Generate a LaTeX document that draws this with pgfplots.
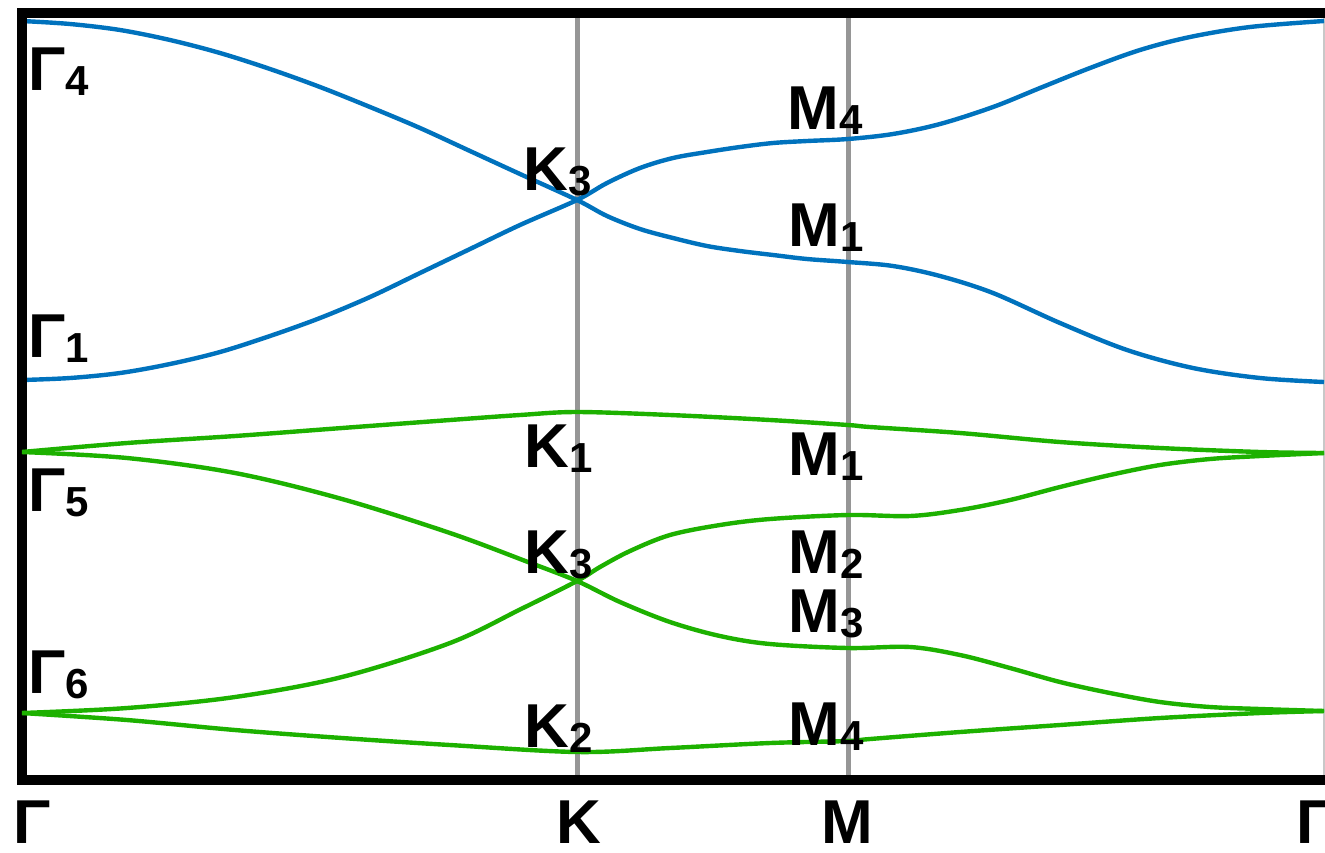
\documentclass[border=0pt]{standalone}
\usepackage{pgfplots}
\pgfplotsset{compat=1.18}
\usepackage{fontspec}
\setmainfont{Liberation Sans}

\definecolor{bandblue}{RGB}{0,114,189}
\definecolor{bandgreen}{RGB}{29,177,0}
\definecolor{kline}{RGB}{150,150,150}
\definecolor{edgeline}{RGB}{200,200,200}

% irreducible-representation label: letter with a large subscript
\newcommand{\irrep}[2]{{\fontsize{31}{31}\selectfont\bfseries #1}\raisebox{-2.5pt}{\fontsize{21}{21}\selectfont\bfseries #2}}
\newcommand{\kpt}[1]{{\fontsize{31}{31}\selectfont\bfseries #1}}

\begin{document}
\begin{tikzpicture}
\begin{axis}[
  scale only axis, width=662.5pt, height=426pt,
  xmin=0, xmax=1325, ymin=0, ymax=852, y dir=reverse,
  axis lines=none, clip=false,
  band/.style={smooth, tension=0.55, line width=2.2pt, no markers},
]
% high-symmetry lines
\addplot[kline, line width=2.5pt] coordinates {(577,13) (577,780)};
\addplot[kline, line width=2.5pt] coordinates {(848,13) (848,780)};
\addplot[edgeline, line width=0.8pt] coordinates {(1324,13) (1324,780)};

% upper (blue) bands
\addplot[band, bandblue] coordinates {
 (22,21) (70,24) (120,30) (170,40) (220,53) (270,69) (320,87) (370,107)
 (420,128) (470,151) (520,174) (577,200)
 (607,216) (640,229) (673,238) (707,246) (740,251) (773,255) (807,259)
 (848,262) (893,266) (940,276) (993,293) (1060,323) (1127,350) (1193,368)
 (1260,378) (1324,382)};
\addplot[band, bandblue] coordinates {
 (22,380) (70,378) (120,373) (170,364) (220,352) (270,336) (320,318)
 (370,297) (420,273) (470,249) (520,225) (577,200)
 (607,183) (640,168) (673,158) (707,152) (740,147) (773,143) (807,141)
 (848,139) (893,134) (940,124) (993,107) (1040,88) (1090,68) (1140,50)
 (1190,37) (1250,27) (1324,21)};

% frame
\draw[black, line width=5pt] (axis cs:1345,13) -- (axis cs:22,13) -- (axis cs:22,780) -- (axis cs:1345,780);

% lower (green) bands
\addplot[band, bandgreen] coordinates {
 (22,452) (127,443) (235,436) (342,428) (450,420) (520,415) (577,412)
 (670,415) (770,420) (848,425) (870,427) (960,433) (1060,442) (1160,448)
 (1260,452) (1324,453)};
\addplot[band, bandgreen] coordinates {
 (22,452) (127,458) (235,473) (342,499) (450,533) (528,562) (577,581)
 (620,602) (670,622) (720,636) (770,644) (848,648) (910,647) (960,655)
 (1010,668) (1060,682) (1110,693) (1160,702) (1210,707) (1260,709) (1324,711)};
\addplot[band, bandgreen] coordinates {
 (22,713) (127,708) (235,697) (342,677) (450,643) (521,609) (577,581)
 (600,567) (630,551) (670,535) (720,525) (770,519) (848,515) (910,516)
 (960,510) (1010,500) (1060,487) (1110,475) (1160,465) (1210,459) (1260,456)
 (1324,453)};
\addplot[band, bandgreen] coordinates {
 (22,713) (127,720) (235,730) (342,738) (450,745) (578,752) (670,748)
 (770,743) (848,741) (870,739) (960,732) (1060,725) (1160,718) (1260,713)
 (1324,711)};

% labels
\begin{scope}[every node/.style={anchor=base west, inner sep=0pt}]
\node at (axis cs:28,90)  {\irrep{Γ}{4}};
\node at (axis cs:28,357) {\irrep{Γ}{1}};
\node at (axis cs:28,511) {\irrep{Γ}{5}};
\node at (axis cs:28,693) {\irrep{Γ}{6}};
\node at (axis cs:523,190) {\irrep{K}{3}};
\node at (axis cs:787,129) {\irrep{M}{4}};
\node at (axis cs:788,246) {\irrep{M}{1}};
\node at (axis cs:524,467) {\irrep{K}{1}};
\node at (axis cs:788,475) {\irrep{M}{1}};
\node at (axis cs:524,573) {\irrep{K}{3}};
\node at (axis cs:788,573) {\irrep{M}{2}};
\node at (axis cs:788,632) {\irrep{M}{3}};
\node at (axis cs:524,747) {\irrep{K}{2}};
\node at (axis cs:788,745) {\irrep{M}{4}};
\node at (axis cs:13,843)   {\kpt{Γ}};
\node at (axis cs:556,843)  {\kpt{K}};
\node at (axis cs:821,843)  {\kpt{M}};
\node at (axis cs:1296,843) {\kpt{Γ}};
\end{scope}
\end{axis}
\pgfresetboundingbox
\useasboundingbox (current axis.south west) rectangle (current axis.north east);
\end{tikzpicture}
\end{document}
